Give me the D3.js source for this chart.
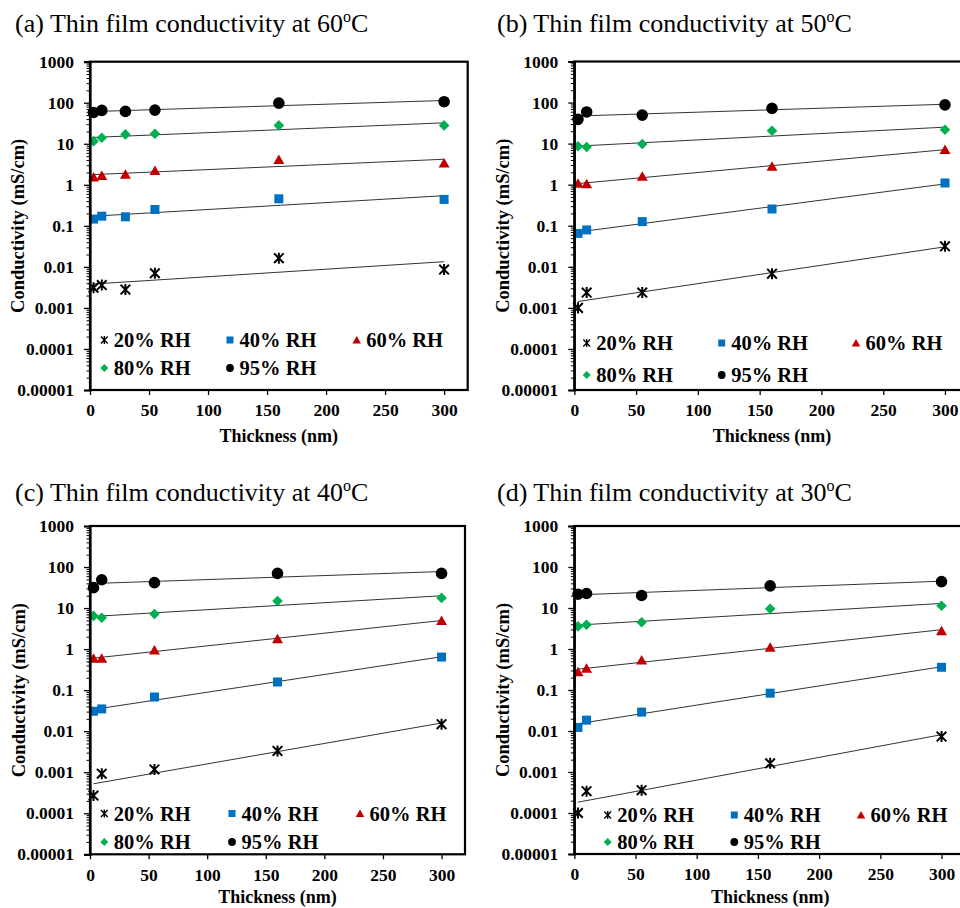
<!DOCTYPE html>
<html>
<head>
<meta charset="utf-8">
<script src="https://cdn.jsdelivr.net/npm/d3@7"></script>
<style>
  body { margin: 0; background: #fff; }
  svg { display: block; }
</style>
</head>
<body>
<svg id="chart" width="960" height="908"></svg>
<script>
// ---- data -----------------------------------------------------------
const rhLabels = ["20% RH", "40% RH", "60% RH", "80% RH", "95% RH"];
const yTickValues = [1e-5, 1e-4, 1e-3, 1e-2, 1e-1, 1, 10, 100, 1000];
const yTickLabels = ["0.00001", "0.0001", "0.001", "0.01", "0.1", "1", "10", "100", "1000"];
const xTickValues = [0, 50, 100, 150, 200, 250, 300];

// film thickness (nm) per temperature
const thickness60C = [3, 10, 30, 55, 160, 300];
const thickness50C = [3, 10, 55, 160, 300];
const thickness40C = [3, 10, 55, 160, 300];
const thickness30C = [3, 10, 55, 160, 300];

// conductivity (mS/cm), one row per RH level (20, 40, 60, 80, 95 %)
const sigma60C = [
  [0.0031, 0.0036, 0.0028, 0.0070, 0.0163, 0.0086],
  [0.146, 0.172, 0.166, 0.25, 0.456, 0.44],
  [1.54, 1.69, 1.82, 2.24, 4.15, 3.38],
  [11.6, 14, 16.9, 17.5, 28, 28],
  [58, 65, 61.5, 66, 98, 106]
];
const sigma50C = [
  [0.0010, 0.00236, 0.00236, 0.0068, 0.0316],
  [0.065, 0.079, 0.126, 0.256, 1.1],
  [1.08, 1.05, 1.6, 2.8, 7.2],
  [8.6, 8.3, 9.8, 20.6, 21.8],
  [39, 59, 49.5, 72, 88]
];
const sigma40C = [
  [0.00027, 0.00092, 0.00117, 0.0033, 0.0148],
  [0.0306, 0.0349, 0.068, 0.158, 0.64],
  [0.6, 0.6, 0.95, 1.78, 5.0],
  [6.45, 5.8, 7.2, 14.9, 17.7],
  [31.5, 49, 41.7, 70, 70]
];
const sigma30C = [
  [0.0001, 0.00034, 0.00036, 0.00163, 0.0073],
  [0.0122, 0.0184, 0.0289, 0.0836, 0.358],
  [0.28, 0.34, 0.54, 1.1, 2.8],
  [3.56, 3.9, 4.5, 9.6, 11.3],
  [21.7, 22.6, 20.2, 34.7, 44]
];

// ---- styles ---------------------------------------------------------
const rhColors = ["#000000", "#0070C0", "#C00000", "#00B050", "#000000"];
const rhShapes = ["star", "square", "triangle", "diamond", "circle"];
const SERIF = "'Liberation Serif', 'Times New Roman', serif";

function markerPath(shape, s) {
  // s = nominal half-size
  switch (shape) {
    case "square":   return `M${-s},${-s}H${s}V${s}H${-s}Z`;
    case "triangle": return `M0,${-s}L${s * 1.1},${s * 0.9}L${-s * 1.1},${s * 0.9}Z`;
    case "diamond":  return `M0,${-s}L${s},0L0,${s}L${-s},0Z`;
    case "circle":   return `M${s},0A${s},${s} 0 1,1 ${-s},0A${s},${s} 0 1,1 ${s},0Z`;
    case "star":     return `M${-s},${-s}L${s},${s}M${-s},${s}L${s},${-s}M0,${-s * 1.15}L0,${s * 1.15}`;
  }
}
function drawMarker(g, shape, color, s, x, y, starWidth) {
  const p = g.append("path").attr("d", markerPath(shape, s))
    .attr("transform", `translate(${x},${y})`);
  if (shape === "star") p.attr("fill", "none").attr("stroke", color).attr("stroke-width", starWidth);
  else p.attr("fill", color);
}

// least-squares exponential trend: log10(y) = a + b x
function expFit(xs, ys) {
  const ly = ys.map(v => Math.log10(v));
  const mx = d3.mean(xs), my = d3.mean(ly);
  let sxy = 0, sxx = 0;
  xs.forEach((x, i) => { sxy += (x - mx) * (ly[i] - my); sxx += (x - mx) * (x - mx); });
  const b = sxy / sxx, a = my - b * mx;
  return x => Math.pow(10, a + b * x);
}

// ---- panel layout ---------------------------------------------------
const panels = [
  { title: "(a) Thin film conductivity at ", temp: "60", xs: thickness60C, ys: sigma60C,
    left: 90, right: 467.7, top: 61.7, bottom: 390, titleX: 15, titleY: 32, yTitleX: 18,
    xTitleDy: 52, legRows: [340, 368], legMarkX: [104.3, 230, 356.7] },
  { title: "(b) Thin film conductivity at ", temp: "50", xs: thickness50C, ys: sigma50C,
    left: 574.3, right: 969.7, top: 61.5, bottom: 390, titleX: 497, titleY: 32, yTitleX: 503,
    xTitleDy: 52, legRows: [343, 375], legMarkX: [586.7, 721.7, 856] },
  { title: "(c) Thin film conductivity at ", temp: "40", xs: thickness40C, ys: sigma40C,
    left: 90, right: 465, top: 526, bottom: 854.3, titleX: 15, titleY: 501, yTitleX: 18.5,
    xTitleDy: 49, legRows: [813.5, 842], legMarkX: [104.3, 232, 360] },
  { title: "(d) Thin film conductivity at ", temp: "30", xs: thickness30C, ys: sigma30C,
    left: 574.3, right: 966, top: 526, bottom: 854, titleX: 497, titleY: 501, yTitleX: 503,
    xTitleDy: 49, legRows: [815, 842], legMarkX: [607.7, 734.3, 861] }
];

const svg = d3.select("#chart");

panels.forEach(P => {
  const g = svg.append("g");
  const x = d3.scaleLinear().domain([0, 320]).range([P.left, P.right]);
  const y = d3.scaleLog().domain([1e-5, 1e3]).range([P.bottom, P.top]);

  // title with superscript degree "o"
  const t = g.append("text").attr("x", P.titleX).attr("y", P.titleY)
    .attr("font-family", SERIF).attr("font-size", 26).attr("fill", "#000");
  t.append("tspan").text(P.title + P.temp);
  t.append("tspan").attr("font-size", 16).attr("dy", -10).text("o");
  t.append("tspan").attr("dy", 10).text("C");

  // trend lines
  P.ys.forEach(row => {
    const f = expFit(P.xs, row);
    const x0 = P.xs[0], x1 = P.xs[P.xs.length - 1];
    g.append("line")
      .attr("x1", x(x0)).attr("y1", y(f(x0)))
      .attr("x2", x(x1)).attr("y2", y(f(x1)))
      .attr("stroke", "#333").attr("stroke-width", 1);
  });

  // markers
  P.ys.forEach((row, i) => {
    row.forEach((v, j) => {
      const sz = { star: 4.8, square: 4.5, triangle: 5, diamond: 5.3, circle: 5.8 }[rhShapes[i]];
      drawMarker(g, rhShapes[i], rhColors[i], sz, x(P.xs[j]), y(v), 2);
    });
  });

  // frame
  g.append("rect").attr("x", P.left).attr("y", P.top)
    .attr("width", P.right - P.left).attr("height", P.bottom - P.top)
    .attr("fill", "none").attr("stroke", "#000").attr("stroke-width", 2.2);

  // y axis: major ticks with labels
  const yAxis = d3.axisLeft(y).tickValues(yTickValues)
    .tickFormat((d, i) => yTickLabels[i]).tickSize(6).tickPadding(10);
  const ya = g.append("g").attr("transform", `translate(${P.left},0)`).call(yAxis);
  ya.select(".domain").attr("stroke", "#000").attr("stroke-width", 2.2);
  ya.selectAll(".tick line").attr("stroke", "#000").attr("stroke-width", 1.3);
  ya.selectAll(".tick text").attr("font-family", SERIF).attr("font-weight", "bold")
    .attr("font-size", 17.5).attr("fill", "#000");

  // y axis: minor ticks
  const minor = [];
  for (let e = -5; e < 3; e++) for (let m = 2; m <= 9; m++) minor.push(m * Math.pow(10, e));
  const ym = g.append("g").attr("transform", `translate(${P.left},0)`)
    .call(d3.axisLeft(y).tickValues(minor).tickFormat("").tickSize(3.5));
  ym.select(".domain").remove();
  ym.selectAll(".tick line").attr("stroke", "#000").attr("stroke-width", 1);

  // x axis
  const xAxis = d3.axisBottom(x).tickValues(xTickValues).tickSize(5).tickPadding(9);
  const xa = g.append("g").attr("transform", `translate(0,${P.bottom})`).call(xAxis);
  xa.select(".domain").remove();
  xa.selectAll(".tick line").attr("stroke", "#000").attr("stroke-width", 1.3);
  xa.selectAll(".tick text").attr("font-family", SERIF).attr("font-weight", "bold")
    .attr("font-size", 17.5).attr("fill", "#000");

  // axis titles
  g.append("text")
    .attr("x", (P.left + x(320)) / 2)
    .attr("y", P.bottom + P.xTitleDy).attr("text-anchor", "middle")
    .attr("font-family", SERIF).attr("font-weight", "bold").attr("font-size", 18).attr("fill", "#000")
    .text("Thickness (nm)");
  g.append("text")
    .attr("transform", `translate(${P.yTitleX + 6},${(P.top + P.bottom) / 2}) rotate(-90)`)
    .attr("text-anchor", "middle")
    .attr("font-family", SERIF).attr("font-weight", "bold").attr("font-size", 18.5).attr("fill", "#000")
    .text("Conductivity (mS/cm)");

  // legend: 3 entries on the first row, 2 on the second
  rhLabels.forEach((lab, i) => {
    const row = i < 3 ? 0 : 1, col = i < 3 ? i : i - 3;
    const mx = P.legMarkX[col], my = P.legRows[row];
    const sz = { star: 3.4, square: 3.5, triangle: 3.9, diamond: 4, circle: 3.9 }[rhShapes[i]];
    drawMarker(g, rhShapes[i], rhColors[i], sz, mx, my, 1.4);
    g.append("text").attr("x", mx + 9.5).attr("y", my + 7)
      .attr("font-family", SERIF).attr("font-weight", "bold").attr("font-size", 20.5).attr("fill", "#000")
      .text(lab);
  });
});
</script>
</body>
</html>
